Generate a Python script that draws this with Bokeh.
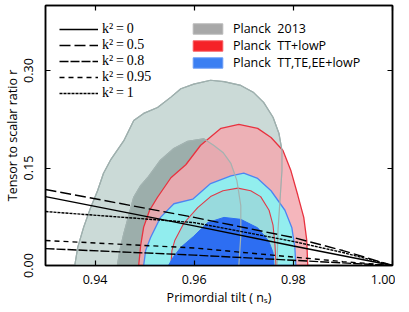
from bokeh.plotting import figure
from bokeh.models import (Range1d, LinearAxis, FixedTicker, NumeralTickFormatter,
                          Legend, LegendItem)
from bokeh.embed import file_html
from bokeh.resources import INLINE

# ---------------- data ----------------
x_ticks = [0.94, 0.96, 0.98, 1.00]
y_ticks = [0.00, 0.15, 0.30]

# Planck 2013, 95% region
p13_out_ns = [0.9359, 0.9365, 0.9377, 0.9391, 0.9405, 0.9417, 0.9431, 0.9458, 0.9478,
              0.9498, 0.9526, 0.9553, 0.9573, 0.9599, 0.9633, 0.9660, 0.9694, 0.9720,
              0.9740, 0.9759, 0.9771, 0.9777, 0.9777, 0.9773, 0.9769, 0.9767]
p13_out_r = [0.000, 0.028, 0.059, 0.089, 0.115, 0.142, 0.162, 0.192, 0.223,
             0.234, 0.243, 0.259, 0.272, 0.279, 0.285, 0.283, 0.277, 0.266,
             0.251, 0.228, 0.203, 0.177, 0.146, 0.100, 0.054, 0.000]
# Planck 2013, 68% region
p13_in_ns = [0.9445, 0.9450, 0.9458, 0.9468, 0.9478, 0.9492, 0.9506, 0.9532, 0.9559,
             0.9587, 0.9619, 0.9639, 0.9658, 0.9674, 0.9686, 0.9694, 0.9694, 0.9690]
p13_in_r = [0.000, 0.023, 0.049, 0.077, 0.105, 0.123, 0.135, 0.162, 0.180,
            0.191, 0.195, 0.185, 0.174, 0.157, 0.131, 0.092, 0.046, 0.000]

# Planck TT+lowP
tt_out_ns = [0.9488, 0.9492, 0.9498, 0.9510, 0.9526, 0.9553, 0.9583, 0.9613, 0.9654,
             0.9690, 0.9728, 0.9755, 0.9779, 0.9795, 0.9809, 0.9821, 0.9827, 0.9829]
tt_out_r = [0.000, 0.031, 0.059, 0.085, 0.105, 0.135, 0.155, 0.185, 0.211,
            0.217, 0.211, 0.197, 0.177, 0.146, 0.108, 0.074, 0.039, 0.000]
tt_in_ns = [0.9553, 0.9555, 0.9561, 0.9579, 0.9607, 0.9633, 0.9658, 0.9688, 0.9714,
            0.9734, 0.9751, 0.9759, 0.9763, 0.9765]
tt_in_r = [0.000, 0.023, 0.039, 0.065, 0.089, 0.106, 0.115, 0.119, 0.115,
           0.106, 0.085, 0.062, 0.031, 0.000]

# Planck TT,TE,EE+lowP
all_out_ns = [0.9498, 0.9502, 0.9512, 0.9532, 0.9559, 0.9597, 0.9633, 0.9674, 0.9700,
              0.9728, 0.9755, 0.9783, 0.9797, 0.9803, 0.9805]
all_out_r = [0.000, 0.023, 0.043, 0.074, 0.095, 0.102, 0.126, 0.138, 0.142,
             0.134, 0.115, 0.085, 0.058, 0.028, 0.000]
all_in_ns = [0.9548, 0.9557, 0.9573, 0.9599, 0.9627, 0.9660, 0.9694, 0.9728, 0.9750,
             0.9759, 0.9761]
all_in_r = [0.000, 0.012, 0.028, 0.045, 0.066, 0.074, 0.071, 0.058, 0.038,
            0.020, 0.000]

# model predictions r(n_s) for several k^2
line_ns = [0.93, 0.96, 0.98, 0.99, 1.00]
r_k0 = [0.106, 0.061, 0.030, 0.015, 0.0]
r_k05 = [0.117, 0.074, 0.043, 0.023, 0.0]
r_k08 = [0.026, 0.016, 0.008, 0.004, 0.0]
r_k095 = [0.0385, 0.027, 0.013, 0.006, 0.0]
r_k1 = [0.083, 0.066, 0.037, 0.020, 0.0]

k_labels = ["k\u00b2\u2009=\u20090", "k\u00b2\u2009=\u20090.5", "k\u00b2\u2009=\u20090.8",
            "k\u00b2\u2009=\u20090.95", "k\u00b2\u2009=\u20091"]
data_labels = ["Planck  2013", "Planck  TT+lowP", "Planck  TT,TE,EE+lowP"]

# ---------------- figure ----------------
SANS = "Open Sans"
p = figure(frame_width=347, frame_height=260,
           x_range=Range1d(0.93, 1.0), y_range=Range1d(0.0, 0.40),
           output_backend="svg", toolbar_location=None,
           min_border_left=45, min_border_top=5, min_border_right=3,
           min_border_bottom=30, background_fill_color="white",
           border_fill_color="white")
p.grid.visible = False
p.outline_line_color = "black"
p.outline_line_width = 1.5
# off-screen range used only by the legend swatches
p.extra_y_ranges = {"swatch": Range1d(10.0, 11.0)}

# filled contours
p.patch(p13_out_ns, p13_out_r, fill_color="#cbdad7", line_color="#9aacaa", line_width=1.2)
p.patch(p13_in_ns, p13_in_r, fill_color="#9caeab", line_color="#9aacaa", line_width=1.2)
p.patch(tt_out_ns, tt_out_r, fill_color="#f3a9b0", fill_alpha=0.85,
        line_color="#e8323f", line_width=1.3)
p.patch(all_out_ns, all_out_r, fill_color="#8af3f3", fill_alpha=0.92,
        line_color="#4d84f2", line_width=1.3)
p.patch(tt_in_ns, tt_in_r, fill_color="#dc3c50", fill_alpha=0.10,
        line_color="#e03a48", line_width=1.1)
p.patch(all_in_ns, all_in_r, fill_color="#2d6ef2", line_color="#2d6ef2", line_width=1.0)
# 2013 contour lines on top
p.line(p13_out_ns, p13_out_r, line_color="#9fb0ae", line_width=1.2)
p.line(p13_in_ns, p13_in_r, line_color="#a3b3b1", line_width=1.2)

# model lines
lw = 1.4
l0 = p.line(line_ns, r_k0, line_color="black", line_width=lw)
l05 = p.line(line_ns, r_k05, line_color="black", line_width=lw, line_dash="11 4")
l08 = p.line(line_ns, r_k08, line_color="black", line_width=lw, line_dash="9 2")
l095 = p.line(line_ns, r_k095, line_color="black", line_width=lw, line_dash="5 4")
l1 = p.line(line_ns, r_k1, line_color="black", line_width=lw, line_dash="3 1")

# legend swatches (drawn on an off-screen range, shown only in the legend)
g1 = p.patch(p13_out_ns, p13_out_r, fill_color="#a8a8a8", line_color="#b8b8b8",
             y_range_name="swatch")
g2 = p.patch(tt_out_ns, tt_out_r, fill_color="#f52228", line_color="#f75a5e",
             y_range_name="swatch")
g3 = p.patch(all_out_ns, all_out_r, fill_color="#3b7ff2", line_color="#6a9cf4",
             y_range_name="swatch")

leg1 = Legend(items=[LegendItem(label=lab, renderers=[r]) for lab, r in
                     zip(k_labels, [l0, l05, l08, l095, l1])],
              location=(14, 164), padding=0, margin=0, spacing=0,
              glyph_width=39, glyph_height=14, label_height=14, label_standoff=4,
              label_text_font="Liberation Serif", label_text_font_size="14px",
              label_text_color="black",
              border_line_color=None, background_fill_alpha=0)
leg2 = Legend(items=[LegendItem(label=lab, renderers=[r]) for lab, r in
                     zip(data_labels, [g1, g2, g3])],
              location=(144, 194), padding=0, margin=0, spacing=0,
              glyph_width=37, glyph_height=13, label_height=13, label_standoff=7,
              label_text_font=SANS, label_text_font_size="12.5px",
              label_text_color="black",
              border_line_color=None, background_fill_alpha=0)
p.add_layout(leg1)
p.add_layout(leg2)

# axes
xt = FixedTicker(ticks=x_ticks, minor_ticks=[])
yt = FixedTicker(ticks=y_ticks, minor_ticks=[])
fmt = NumeralTickFormatter(format="0.00")

xa = p.xaxis[0]
xa.ticker = xt
xa.formatter = fmt
xa.axis_label = "Primordial tilt ( n\u209b)"
ya = p.yaxis[0]
ya.ticker = yt
ya.formatter = fmt
ya.axis_label = "Tensor to scalar ratio r"
ya.major_label_orientation = "vertical"

for ax in (xa, ya):
    ax.major_tick_in = 5
    ax.major_tick_out = 0
    ax.minor_tick_in = 0
    ax.minor_tick_out = 0
    ax.axis_line_width = 1.5
    ax.axis_line_color = "black"
    ax.major_tick_line_color = "black"
    ax.major_tick_line_width = 1.2
    ax.major_label_text_font = SANS
    ax.major_label_text_font_size = "12.5px"
    ax.major_label_text_color = "black"
    ax.axis_label_text_font = SANS
    ax.axis_label_text_font_size = "12.5px"
    ax.axis_label_text_font_style = "normal"
    ax.axis_label_text_color = "black"
xa.major_label_standoff = 9
xa.axis_label_standoff = 2
ya.major_label_standoff = 13
ya.axis_label_standoff = 0

top = LinearAxis(ticker=xt, major_label_text_font_size="1px", major_label_text_color=None,
                 major_label_standoff=0,
                 major_tick_in=5, major_tick_out=0, minor_tick_in=0, minor_tick_out=0,
                 axis_line_width=1.5, major_tick_line_width=1.2)
right = LinearAxis(ticker=yt, y_range_name="default",
                   major_label_text_font_size="1px", major_label_text_color=None,
                   major_label_standoff=0,
                   major_tick_in=5, major_tick_out=0, minor_tick_in=0, minor_tick_out=0,
                   axis_line_width=1.5, major_tick_line_width=1.2)
p.add_layout(top, "above")
p.add_layout(right, "right")

open("out.html", "w").write(file_html(p, INLINE))
